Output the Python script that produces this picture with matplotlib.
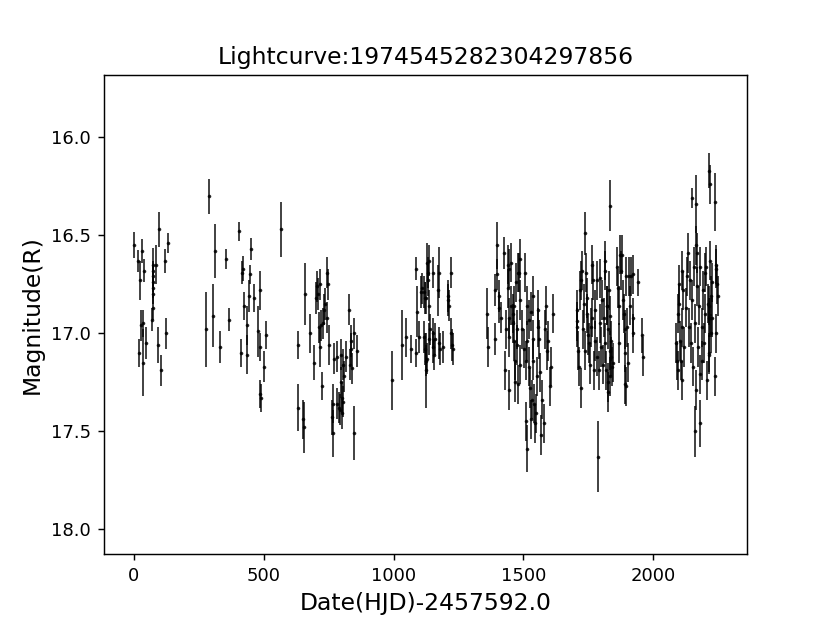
import numpy as np
import matplotlib
matplotlib.use('Agg')
import matplotlib.pyplot as plt

# observation dates (HJD - 2457592.0), one line per season
hjd = [
    0, 17, 23, 33, 38, 30, 35, 20, 37, 47, 74, 75, 75, 75, 76, 76, 73, 72, 86, 97, 120, 133, 95, 106, 124,
    290, 312, 280, 304, 332, 354, 365, 405, 418, 420, 446, 451, 426, 444, 463, 435, 414, 438, 477, 486, 487,
    508, 501, 488, 490, 568,
    632, 633, 651, 656, 659, 677, 695, 700, 704, 710, 717, 717, 724, 715, 720, 728, 733, 737, 745, 749, 752,
    745, 771, 767, 765, 767, 781, 783, 789, 793, 798, 801, 804, 802, 796, 806, 810, 817, 828, 835, 838, 842,
    846, 859, 848, 833,
    996, 1032, 1047, 1067, 1085, 1086, 1092, 1097, 1106, 1111, 1117, 1120, 1126, 1129, 1136, 1133, 1133, 1138,
    1117, 1120, 1123, 1123, 1127, 1138, 1142, 1150, 1151, 1152, 1155, 1159, 1171, 1175, 1174, 1178, 1190,
    1209, 1210, 1212, 1223, 1223, 1226, 1230,
    1358, 1363, 1400, 1391, 1397, 1405, 1407, 1412, 1392, 1424, 1427, 1433, 1441, 1446, 1441, 1443, 1446,
    1445, 1451, 1453, 1458, 1460, 1464, 1463, 1468, 1468, 1472, 1476, 1479, 1485, 1482, 1505, 1475, 1488,
    1495, 1501, 1508, 1512, 1521, 1527, 1514, 1521, 1525, 1508, 1514, 1527, 1532, 1538, 1538, 1538, 1542,
    1545, 1548, 1551, 1557, 1560, 1565, 1568, 1572, 1578, 1582, 1585, 1591, 1595, 1601, 1606, 1612, 1557,
    1480, 1488,
    1832, 1738, 1786, 1704, 1706, 1715, 1722, 1719, 1723, 1725, 1732, 1728, 1736, 1741, 1745, 1745, 1749,
    1751, 1755, 1758, 1762, 1764, 1766, 1770, 1774, 1777, 1781, 1783, 1790, 1794, 1796, 1800, 1802, 1806,
    1808, 1812, 1815, 1818, 1821, 1824, 1825, 1828, 1831, 1709, 1707, 1815, 1822, 1831, 1835, 1838, 1841,
    1831, 1825, 1843, 1860, 1864, 1866, 1869, 1871, 1875, 1879, 1882, 1886, 1889, 1892, 1892, 1895, 1896,
    1899, 1901, 1905, 1908, 1912, 1920, 1920, 1921, 1942, 1956, 1959,
    2147, 2165, 2213, 2217, 2165, 2168, 2132, 2108, 2100, 2097, 2094, 2085, 2090, 2094, 2101, 2105, 2110,
    2108, 2115, 2119, 2125, 2128, 2135, 2142, 2145, 2148, 2151, 2155, 2159, 2162, 2160, 2181, 2168, 2172,
    2176, 2179, 2181, 2185, 2188, 2190, 2194, 2198, 2200, 2206, 2209, 2213, 2213, 2236, 2217, 2204, 2242,
    2242, 2245, 2249, 2227, 2223, 2214, 2217, 2227, 2223, 2242, 2215, 2236,
]

# R magnitudes
mag = [
    16.55, 16.63, 16.73, 16.58, 16.68, 16.96, 16.95, 17.10, 17.15, 17.05, 16.65, 16.68, 16.71, 16.74, 16.77,
    16.80, 16.87, 16.93, 16.65, 16.47, 16.63, 16.54, 17.06, 17.19, 17.00,
    16.30, 16.58, 16.98, 16.91, 17.07, 16.62, 16.93, 16.48, 16.69, 16.67, 16.70, 16.57, 16.86, 16.81, 16.82,
    16.96, 17.10, 17.11, 16.99, 16.78, 17.07, 17.01, 17.17, 17.31, 17.33, 16.47,
    17.06, 17.38, 17.44, 17.48, 16.80, 17.00, 17.15, 16.82, 16.76, 16.80, 16.75, 17.07, 17.27, 16.97, 16.96,
    16.95, 16.88, 16.85, 16.69, 16.75, 17.06, 16.92, 17.13, 17.36, 17.43, 17.51, 17.12, 17.36, 17.38, 17.39,
    17.25, 17.33, 17.35, 17.41, 17.11, 17.16, 17.22, 17.12, 16.88, 17.08, 17.04, 17.18, 17.00, 17.09, 17.51,
    17.16,
    17.24, 17.06, 17.02, 17.08, 16.67, 17.10, 16.89, 17.02, 16.79, 16.77, 16.79, 16.82, 16.82, 16.64, 16.63,
    16.69, 16.73, 16.86, 17.02, 17.08, 17.14, 17.19, 17.13, 17.03, 16.98, 16.69, 17.00, 17.07, 17.11, 17.03,
    16.78, 16.69, 17.05, 17.08, 17.07, 16.83, 16.81, 16.86, 16.69, 17.00, 17.06, 17.08,
    16.90, 17.07, 16.55, 16.78, 16.70, 16.81, 16.87, 16.92, 17.03, 16.59, 17.19, 16.98, 16.65, 16.67, 16.77,
    16.92, 17.02, 17.29, 16.64, 16.86, 16.90, 16.95, 16.86, 17.04, 17.14, 17.25, 16.74, 16.98, 16.69, 16.62,
    16.69, 16.69, 17.06, 17.16, 16.98, 17.08, 17.14, 16.86, 16.93, 16.89, 17.04, 17.17, 17.28, 17.45, 17.59,
    17.44, 17.34, 16.81, 17.03, 17.14, 17.36, 17.46, 17.41, 17.22, 16.97, 17.03, 17.20, 17.52, 17.34, 17.46,
    16.98, 16.86, 17.09, 17.04, 17.27, 17.17, 16.90, 16.88, 17.26, 16.83,
    16.35, 16.49, 17.63, 16.94, 16.97, 17.17, 17.28, 16.78, 16.73, 16.68, 16.85, 16.98, 17.09, 16.69, 16.82,
    16.90, 17.01, 17.05, 17.16, 16.97, 16.92, 16.65, 16.73, 17.19, 17.04, 16.88, 16.73, 17.12, 17.19, 16.95,
    16.72, 17.07, 16.83, 17.16, 16.92, 16.68, 17.05, 17.19, 16.86, 16.98, 17.25, 16.78, 17.09, 17.09, 16.88,
    16.63, 16.86, 16.91, 17.04, 17.12, 17.17, 17.22, 17.30, 17.15, 16.66, 16.77, 16.86, 17.05, 16.60, 16.68,
    16.60, 16.83, 16.90, 16.98, 17.10, 17.26, 17.27, 16.71, 16.97, 17.15, 16.71, 16.86, 16.71, 16.70, 16.92,
    17.00, 16.74, 17.01, 17.12,
    16.31, 16.34, 16.17, 16.24, 16.55, 16.59, 16.59, 16.68, 16.75, 16.85, 16.90, 17.05, 17.14, 17.19, 17.04,
    17.14, 17.24, 16.97, 16.78, 17.07, 16.87, 16.71, 16.97, 16.73, 17.05, 16.83, 17.17, 16.66, 16.95, 17.29,
    17.50, 17.46, 16.76, 17.07, 16.86, 17.21, 16.66, 16.97, 17.14, 16.78, 17.05, 16.69, 16.90, 17.24, 16.85,
    16.92, 17.10, 16.33, 16.63, 16.66, 16.65, 16.67, 16.75, 16.81, 16.74, 16.81, 16.86, 16.92, 16.92, 17.00,
    17.00, 17.11, 17.22,
]

# magnitude errors
mag_err = [
    0.067, 0.057, 0.10, 0.06, 0.06, 0.08, 0.07, 0.07, 0.17, 0.08, 0.085, 0.05, 0.05, 0.05, 0.05, 0.05, 0.06,
    0.06, 0.10, 0.09, 0.06, 0.05, 0.09, 0.08, 0.08,
    0.09, 0.14, 0.19, 0.16, 0.08, 0.05, 0.06, 0.05, 0.06, 0.065, 0.05, 0.055, 0.07, 0.08, 0.07, 0.10, 0.07,
    0.10, 0.13, 0.10, 0.07, 0.07, 0.08, 0.07, 0.07, 0.14,
    0.07, 0.12, 0.10, 0.13, 0.16, 0.10, 0.09, 0.08, 0.08, 0.08, 0.08, 0.10, 0.07, 0.08, 0.08, 0.08, 0.08,
    0.08, 0.08, 0.08, 0.10, 0.08, 0.08, 0.10, 0.09, 0.12, 0.08, 0.08, 0.08, 0.08, 0.08, 0.08, 0.08, 0.08,
    0.08, 0.08, 0.08, 0.08, 0.08, 0.08, 0.08, 0.08, 0.08, 0.08, 0.14, 0.08,
    0.15, 0.18, 0.10, 0.07, 0.06, 0.07, 0.13, 0.08, 0.08, 0.08, 0.08, 0.08, 0.08, 0.10, 0.08, 0.08, 0.08,
    0.08, 0.08, 0.08, 0.08, 0.19, 0.08, 0.08, 0.08, 0.08, 0.08, 0.08, 0.08, 0.08, 0.13, 0.13, 0.08, 0.08,
    0.08, 0.08, 0.08, 0.08, 0.08, 0.08, 0.08, 0.08,
    0.13, 0.10, 0.12, 0.08, 0.08, 0.08, 0.08, 0.08, 0.08, 0.08, 0.10, 0.10, 0.10, 0.10, 0.10, 0.10, 0.10,
    0.10, 0.10, 0.10, 0.10, 0.10, 0.10, 0.10, 0.10, 0.10, 0.10, 0.10, 0.10, 0.10, 0.10, 0.10, 0.10, 0.10,
    0.10, 0.10, 0.10, 0.10, 0.10, 0.10, 0.10, 0.10, 0.10, 0.10, 0.12, 0.10, 0.10, 0.10, 0.10, 0.10, 0.10,
    0.10, 0.10, 0.10, 0.10, 0.10, 0.10, 0.10, 0.10, 0.10, 0.10, 0.10, 0.10, 0.10, 0.10, 0.10, 0.10, 0.10,
    0.10, 0.10,
    0.13, 0.11, 0.18, 0.10, 0.10, 0.10, 0.10, 0.10, 0.10, 0.10, 0.10, 0.10, 0.10, 0.10, 0.10, 0.10, 0.10,
    0.10, 0.10, 0.10, 0.10, 0.10, 0.10, 0.10, 0.10, 0.10, 0.10, 0.10, 0.10, 0.10, 0.10, 0.10, 0.10, 0.10,
    0.10, 0.10, 0.10, 0.10, 0.10, 0.10, 0.10, 0.10, 0.10, 0.10, 0.10, 0.10, 0.10, 0.10, 0.10, 0.10, 0.10,
    0.10, 0.10, 0.10, 0.10, 0.10, 0.10, 0.10, 0.10, 0.10, 0.10, 0.10, 0.10, 0.10, 0.10, 0.10, 0.10, 0.10,
    0.10, 0.10, 0.10, 0.10, 0.10, 0.10, 0.10, 0.10, 0.07, 0.09, 0.10,
    0.05, 0.15, 0.09, 0.10, 0.10, 0.10, 0.10, 0.10, 0.10, 0.10, 0.10, 0.10, 0.10, 0.10, 0.10, 0.10, 0.10,
    0.10, 0.10, 0.10, 0.10, 0.10, 0.10, 0.10, 0.10, 0.10, 0.10, 0.10, 0.10, 0.10, 0.13, 0.12, 0.10, 0.10,
    0.10, 0.10, 0.10, 0.10, 0.10, 0.10, 0.10, 0.10, 0.10, 0.10, 0.10, 0.10, 0.10, 0.15, 0.10, 0.10, 0.10,
    0.10, 0.10, 0.10, 0.10, 0.10, 0.10, 0.10, 0.10, 0.10, 0.10, 0.10, 0.10,
]

source_id = '1974545282304297856'

fig = plt.figure(figsize=(8.3 / 1.3, 6.23 / 1.3), dpi=130)
ax = fig.add_subplot(111)
ax.errorbar(hjd, mag, yerr=mag_err, fmt='.', color='k', markersize=2,
            elinewidth=1.0, ecolor='k', alpha=0.8)
ax.set_xlim(-115, 2360)
ax.set_ylim(18.13, 15.68)
ax.set_xticks([0, 500, 1000, 1500, 2000])
ax.set_yticks([16.0, 16.5, 17.0, 17.5, 18.0])
ax.set_title('Lightcurve:' + source_id, fontsize=13)
ax.set_xlabel('Date(HJD)-2457592.0', fontsize=13)
ax.set_ylabel('Magnitude(R)', fontsize=13)
fig.savefig('out.png', dpi=130)
